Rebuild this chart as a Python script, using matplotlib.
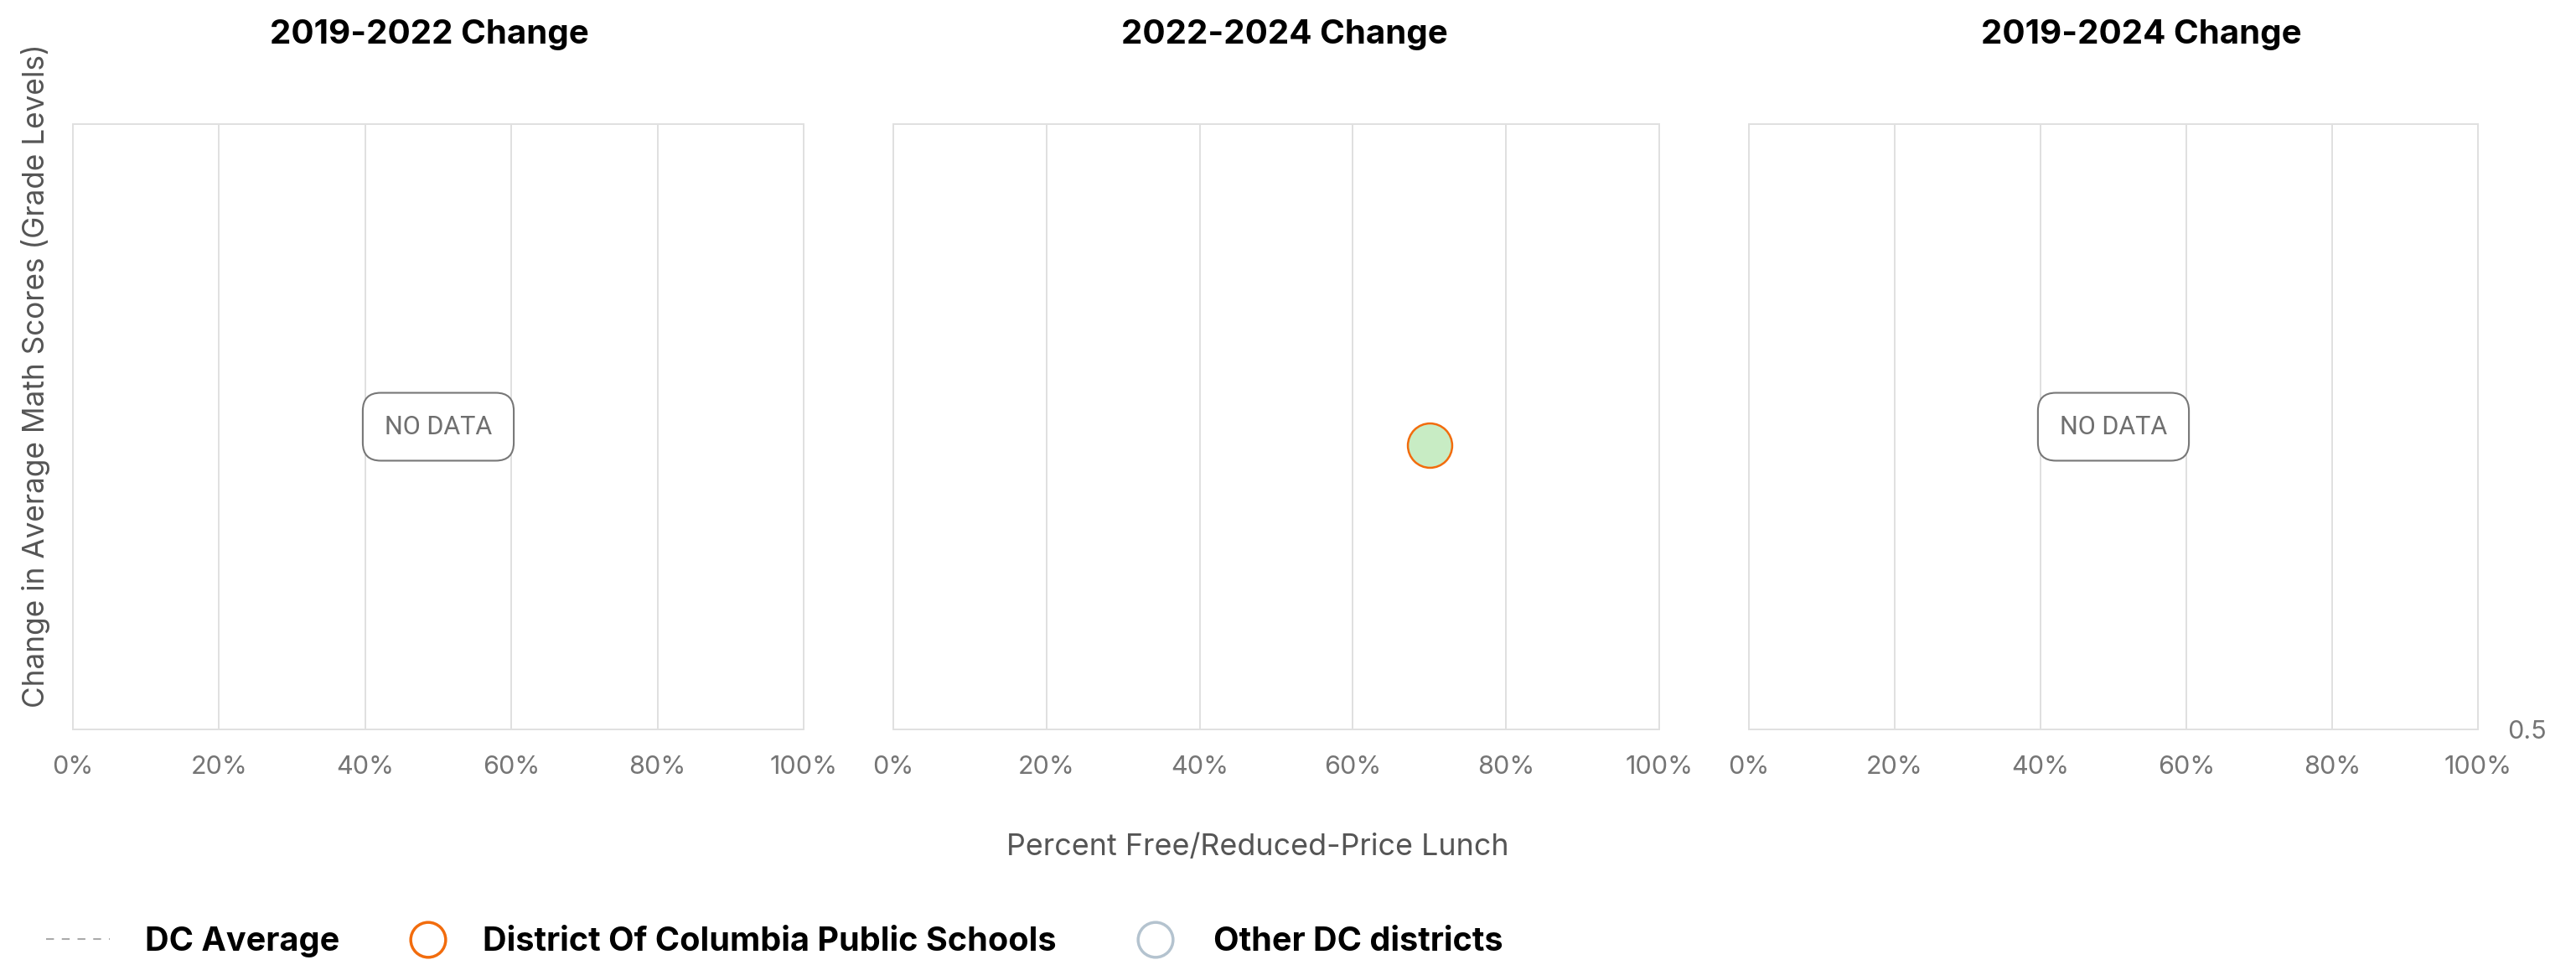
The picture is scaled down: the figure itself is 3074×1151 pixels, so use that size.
import matplotlib
matplotlib.use("Agg")
import matplotlib.pyplot as plt

# ---------------- data ----------------
periods = ["2019-2022 Change", "2022-2024 Change", "2019-2024 Change"]
dcps_frl_pct = [None, 70, None]          # percent free/reduced-price lunch
dcps_math_change = [None, 0.97, None]    # change in grade levels
x_ticks = [0, 20, 40, 60, 80, 100]
x_tick_labels = ["0%", "20%", "40%", "60%", "80%", "100%"]
y_limits = (0.5, 1.5)
y_right_ticks = [0.5]
y_right_tick_labels = ["0.5"]
legend_labels = ["DC Average", "District Of Columbia Public Schools", "Other DC districts"]
x_label = "Percent Free/Reduced-Price Lunch"
y_label = "Change in Average Math Scores (Grade Levels)"
no_data_text = "NO DATA"

# ---------------- styles ----------------
W, H = 3074, 1151
DPI = 100
GRID = "#e0e0e0"
TICK_C = "#757575"
LABEL_C = "#555555"
ORANGE = "#f26c0d"
GREEN_FILL = "#c8ecc4"
OTHER_C = "#b4c3cf"
FONT = "Inter"

fig = plt.figure(figsize=(W / DPI, H / DPI), dpi=DPI)
fig.patch.set_facecolor("white")


def rect(x0, x1, y0, y1):
    return [x0 / W, 1 - y1 / H, (x1 - x0) / W, (y1 - y0) / H]


def fx(x):
    return x / W


def fy(y):
    return 1 - y / H


panel_x = [(87, 959), (1066, 1980), (2087, 2957)]
panel_y = (148, 870)
title_cx = [512, 1533, 2555]

axes = []
for i, (x0, x1) in enumerate(panel_x):
    ax = fig.add_axes(rect(x0, x1, panel_y[0], panel_y[1]))
    ax.set_xlim(0, 100)
    ax.set_ylim(*y_limits)
    ax.set_xticks(x_ticks)
    ax.set_xticklabels(x_tick_labels)
    ax.tick_params(axis="x", length=0, pad=22, labelsize=22, labelcolor=TICK_C)
    for lab in ax.get_xticklabels():
        lab.set_fontfamily(FONT)
    ax.grid(axis="x", color=GRID, lw=1.4)
    ax.set_axisbelow(True)
    for sp in ax.spines.values():
        sp.set_color(GRID)
        sp.set_linewidth(1.4)
    if i == 2:
        ax.yaxis.tick_right()
        ax.set_yticks(y_right_ticks)
        ax.set_yticklabels(y_right_tick_labels)
        ax.tick_params(axis="y", length=0, pad=25, labelsize=22, labelcolor=TICK_C)
        for lab in ax.get_yticklabels():
            lab.set_fontfamily(FONT)
    else:
        ax.set_yticks([])

    fig.text(fx(title_cx[i]), fy(52), periods[i], ha="center", va="baseline",
             fontsize=29, fontweight="bold", color="black", family=FONT)

    if dcps_frl_pct[i] is None:
        ax.text(0.5, 0.5, no_data_text, transform=ax.transAxes, ha="center", va="center",
                fontsize=22, color="#6f6f6f", family="Roboto",
                bbox=dict(boxstyle="round,pad=0.85,rounding_size=0.7",
                          fc="white", ec="#777777", lw=1.5))
    else:
        ax.scatter([dcps_frl_pct[i]], [dcps_math_change[i]], s=1450,
                   facecolor=GREEN_FILL, edgecolor=ORANGE, linewidth=1.8, zorder=5)
    axes.append(ax)

# axis labels
fig.text(fx(1501), fy(1020), x_label, ha="center", va="baseline",
         fontsize=25.8, color=LABEL_C, family=FONT)
fig.text(fx(43), fy(448), y_label, ha="center", va="center", rotation=90,
         fontsize=25.3, color=LABEL_C, family=FONT)

# legend
lax = fig.add_axes([0, 0, 1, 1])
lax.set_xlim(0, W)
lax.set_ylim(H, 0)
lax.set_axis_off()
lax.patch.set_alpha(0)
lax.plot([55, 131], [1120, 1120], color="#aaaaaa", lw=1.5, ls=(0, (4.5, 4.5)))
lax.text(173, 1134, legend_labels[0], ha="left", va="baseline", fontsize=28.5,
         fontweight="bold", color="black", family=FONT)
lax.scatter([511], [1121], s=900, facecolor="none", edgecolor=ORANGE, linewidth=2.5)
lax.text(576, 1134, legend_labels[1], ha="left", va="baseline", fontsize=28.5,
         fontweight="bold", color="black", family=FONT)
lax.scatter([1379], [1121], s=900, facecolor="none", edgecolor=OTHER_C, linewidth=2.5)
lax.text(1448, 1134, legend_labels[2], ha="left", va="baseline", fontsize=28.5,
         fontweight="bold", color="black", family=FONT)

fig.savefig("out.png", dpi=DPI, facecolor="white")
